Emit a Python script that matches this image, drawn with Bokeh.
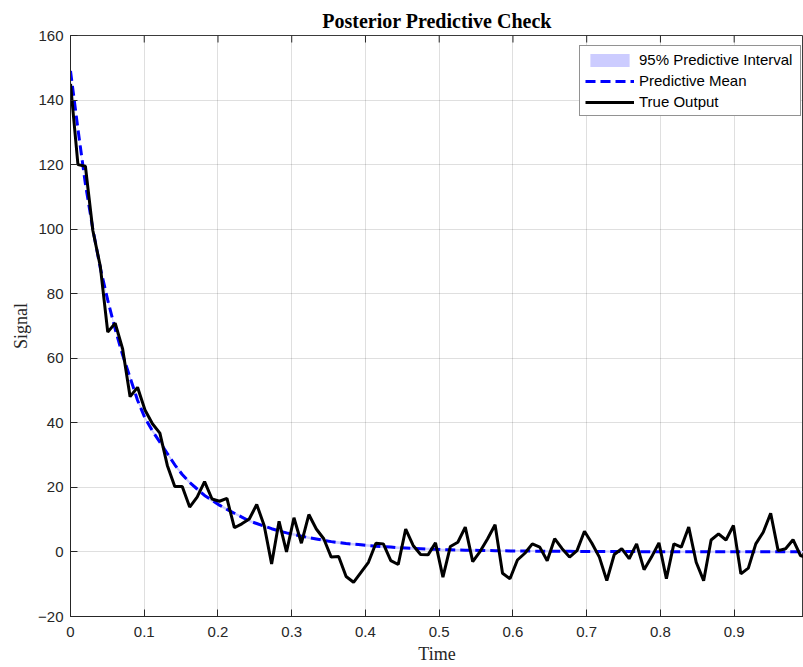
from bokeh.plotting import figure
from bokeh.models import (Range1d, FixedTicker, Legend, LegendItem,
                          CustomJSTickFormatter, ColumnDataSource)
from bokeh.embed import file_html
from bokeh.resources import INLINE

time = [round(i / 99, 5) for i in range(100)]

true_output = [
    145.0, 120.0, 119.5, 99.6, 88.5, 68.1, 70.9, 62.9, 48.1, 51.0,
    44.0, 39.7, 36.8, 26.8, 20.3, 20.3, 13.9, 17.0, 21.8, 16.4,
    15.7, 16.6, 7.5, 8.7, 10.2, 14.7, 8.2, -3.7, 9.5, 0.0,
    10.6, 2.7, 11.6, 7.1, 4.1, -1.6, -1.4, -7.6, -9.4, -6.3,
    -3.2, 2.7, 2.5, -2.7, -3.9, 7.1, 2.0, -0.8, -0.9, 2.8,
    -7.8, 1.7, 3.0, 7.7, -3.0, 0.2, 4.1, 8.4, -6.6, -8.3,
    -2.5, -0.4, 2.5, 1.5, -2.7, 4.1, 1.0, -1.6, 0.4, 6.4,
    2.7, -1.6, -8.9, -0.8, 1.0, -2.1, 2.5, -5.5, -1.6, 2.8,
    -8.3, 2.5, 1.5, 7.7, -3.2, -8.9, 3.7, 5.6, 3.7, 8.2,
    -6.8, -5.0, 2.5, 6.1, 12.0, 0.4, 1.0, 3.8, -1.1, -2.0,
]

pred_mean = [
    149.0, 131.0, 114.0, 100.0, 88.0, 78.0, 69.0, 61.0, 54.0, 47.0,
    41.5, 37.5, 34.0, 30.5, 27.0, 24.0, 21.5, 19.5, 17.5, 16.0,
    14.5, 13.2, 12.0, 10.8, 9.6, 8.8, 8.0, 7.2, 6.5, 5.9,
    5.4, 4.9, 4.4, 4.0, 3.6, 3.2, 2.9, 2.6, 2.4, 2.2,
    2.0, 1.8, 1.6, 1.5, 1.3, 1.2, 1.1, 1.0, 0.9, 0.8,
    0.7, 0.65, 0.6, 0.55, 0.5, 0.46, 0.42, 0.39, 0.36, 0.33,
    0.3, 0.28, 0.26, 0.24, 0.22, 0.2, 0.19, 0.18, 0.17, 0.16,
    0.15, 0.14, 0.13, 0.12, 0.11, 0.1, 0.1, 0.09, 0.09, 0.08,
    0.08, 0.07, 0.07, 0.07, 0.06, 0.06, 0.06, 0.05, 0.05, 0.05,
    0.05, 0.04, 0.04, 0.04, 0.04, 0.04, 0.03, 0.03, 0.03, 0.03,
]

pred_upper = [
    149.5, 131.5, 114.5, 100.5, 88.5, 78.5, 69.5, 61.5, 54.5, 47.5,
    42.0, 38.0, 34.5, 31.0, 27.5, 24.5, 22.0, 20.0, 18.0, 16.5,
    14.9, 13.6, 12.4, 11.2, 10.0, 9.2, 8.4, 7.6, 6.9, 6.3,
    5.8, 5.3, 4.8, 4.4, 4.0, 3.6, 3.3, 3.0, 2.8, 2.6,
    2.4, 2.2, 2.0, 1.9, 1.7, 1.6, 1.5, 1.4, 1.3, 1.2,
    1.0, 0.95, 0.9, 0.85, 0.8, 0.76, 0.72, 0.69, 0.66, 0.63,
    0.6, 0.58, 0.56, 0.54, 0.52, 0.5, 0.49, 0.48, 0.47, 0.46,
    0.45, 0.44, 0.43, 0.42, 0.41, 0.4, 0.4, 0.39, 0.39, 0.38,
    0.38, 0.37, 0.37, 0.37, 0.36, 0.36, 0.36, 0.35, 0.35, 0.35,
    0.35, 0.34, 0.34, 0.34, 0.34, 0.34, 0.33, 0.33, 0.33, 0.33,
]

pred_lower = [
    148.5, 130.5, 113.5, 99.5, 87.5, 77.5, 68.5, 60.5, 53.5, 46.5,
    41.0, 37.0, 33.5, 30.0, 26.5, 23.5, 21.0, 19.0, 17.0, 15.5,
    14.1, 12.8, 11.6, 10.4, 9.2, 8.4, 7.6, 6.8, 6.1, 5.5,
    5.0, 4.5, 4.0, 3.6, 3.2, 2.8, 2.5, 2.2, 2.0, 1.8,
    1.6, 1.4, 1.2, 1.1, 0.9, 0.8, 0.7, 0.6, 0.5, 0.4,
    0.4, 0.35, 0.3, 0.25, 0.2, 0.16, 0.12, 0.09, 0.06, 0.03,
    0.0, -0.02, -0.04, -0.06, -0.08, -0.1, -0.11, -0.12, -0.13, -0.14,
    -0.15, -0.16, -0.17, -0.18, -0.19, -0.2, -0.2, -0.21, -0.21, -0.22,
    -0.22, -0.23, -0.23, -0.23, -0.24, -0.24, -0.24, -0.25, -0.25, -0.25,
    -0.25, -0.26, -0.26, -0.26, -0.26, -0.26, -0.27, -0.27, -0.27, -0.27,
]

x_ticks = [0, 0.1, 0.2, 0.3, 0.4, 0.5, 0.6, 0.7, 0.8, 0.9]
y_ticks = [-20, 0, 20, 40, 60, 80, 100, 120, 140, 160]

Y_MIN, Y_MAX = -20, 160

src = ColumnDataSource(dict(t=time, y=true_output, m=pred_mean,
                            lo=pred_lower, hi=pred_upper))

AX = "#262626"
FRAME_H = 581
p = figure(width=803, height=667, output_backend="svg", toolbar_location=None,
           x_range=Range1d(0, 0.994), y_range=Range1d(Y_MIN, Y_MAX),
           min_border_left=70, min_border_right=0, min_border_top=35,
           min_border_bottom=51, background_fill_color="white",
           border_fill_color="white")

p.title.text = "Posterior Predictive Check"
p.title.align = "center"
p.title.text_font = "Liberation Serif"
p.title.text_font_style = "bold"
p.title.text_font_size = "20px"
p.title.text_color = "black"
p.title.standoff = 7

p.outline_line_color = AX
p.outline_line_alpha = 0.9

band = p.varea(x="t", y1="lo", y2="hi", source=src, fill_color="#ccccff", fill_alpha=1.0)
mean_r = p.line(x="t", y="m", source=src, line_color="#0000ff", line_width=3,
                line_dash="10 5")
true_r = p.line(x="t", y="y", source=src, line_color="black", line_width=3)

# inward tick marks along the top edge of the box (length ~7px)
tick_len = 7 * (Y_MAX - Y_MIN) / FRAME_H
p.segment(x0=x_ticks, y0=[Y_MAX] * len(x_ticks), x1=x_ticks,
          y1=[Y_MAX - tick_len] * len(x_ticks), line_color=AX, line_width=1)

fmt = CustomJSTickFormatter(code="return String(Math.round(tick*10)/10);")

for ax in (p.xaxis[0], p.yaxis[0]):
    ax.axis_line_color = AX
    ax.major_tick_line_color = AX
    ax.major_tick_in = 7
    ax.major_tick_out = 0
    ax.minor_tick_line_color = None
    ax.major_label_text_font = "Liberation Sans"
    ax.major_label_text_font_size = "15px"
    ax.major_label_text_color = AX
    ax.axis_label_text_font = "Liberation Serif"
    ax.axis_label_text_font_style = "normal"
    ax.axis_label_text_font_size = "18px"
    ax.axis_label_text_color = AX

p.xaxis[0].ticker = FixedTicker(ticks=x_ticks)
p.xaxis[0].formatter = fmt
p.xaxis[0].axis_label = "Time"
p.xaxis[0].major_label_standoff = 10
p.xaxis[0].axis_label_standoff = 4

p.yaxis[0].ticker = FixedTicker(ticks=y_ticks)
p.yaxis[0].axis_label = "Signal"
p.yaxis[0].major_label_standoff = 7
p.yaxis[0].axis_label_standoff = 4

p.xgrid.ticker = FixedTicker(ticks=x_ticks)
p.ygrid.ticker = FixedTicker(ticks=y_ticks)
for g in (p.xgrid[0], p.ygrid[0]):
    g.grid_line_color = AX
    g.grid_line_alpha = 0.15
    g.grid_line_width = 1

legend = Legend(items=[
    LegendItem(label="95% Predictive Interval", renderers=[band]),
    LegendItem(label="Predictive Mean", renderers=[mean_r]),
    LegendItem(label="True Output", renderers=[true_r]),
], location=(509, 500), margin=0, padding=5, spacing=4,
    glyph_width=49, glyph_height=16, label_height=16, label_width=156,
    label_standoff=5, label_text_font="Liberation Sans",
    label_text_font_size="15px", label_text_color="black",
    border_line_color="#262626", border_line_width=1,
    background_fill_color="white", background_fill_alpha=1.0)
p.add_layout(legend, "center")

open("out.html", "w").write(file_html(p, INLINE))
